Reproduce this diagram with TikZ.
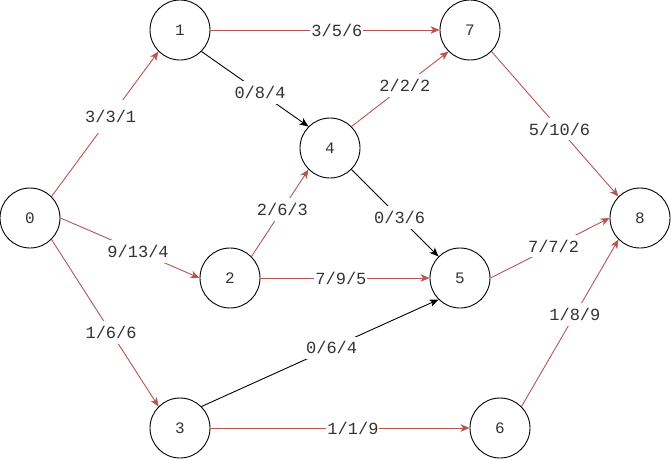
\documentclass[tikz,border=0pt]{standalone}
\usepackage{fontspec}
\setmonofont{Liberation Mono}
\usetikzlibrary{arrows.meta}
\definecolor{flowred}{HTML}{B85450}
\definecolor{labelgray}{HTML}{333333}
\begin{document}
\begin{tikzpicture}[x=1pt,y=-1pt,
  vertex/.style={circle, draw=black, line width=0.9pt, minimum size=60pt, inner sep=0pt,
    font=\ttfamily\fontsize{16}{16}\selectfont, text=labelgray},
  tip/.style={-{Stealth[length=9pt,width=7.5pt,inset=2.5pt]}},
  flow/.style={draw=flowred, line width=0.9pt, tip},
  idle/.style={draw=black, line width=0.9pt, tip},
  lbl/.style={fill=white, inner xsep=1pt, inner ysep=5pt,
    font=\ttfamily\fontsize{17}{17}\selectfont, text=labelgray},
]
\useasboundingbox (0,0) rectangle (671,459);

% vertices
\node[vertex] (n0) at (30,218)  {0};
\node[vertex] (n1) at (180,30)  {1};
\node[vertex] (n7) at (470,30)  {7};
\node[vertex] (n4) at (330,148) {4};
\node[vertex] (n2) at (230,278) {2};
\node[vertex] (n5) at (460,278) {5};
\node[vertex] (n8) at (640,218) {8};
\node[vertex] (n3) at (180,428) {3};
\node[vertex] (n6) at (500,428) {6};

% arcs: flow / capacity / cost
\draw[flow] (n0.north east) -- node[lbl, pos=0.553, minimum height=33pt] {3/3/1} (n1.south west);
\draw[flow] (n0.east) -- node[lbl, pos=0.558] {9/13/4} (n2.west);
\draw[flow] (n0.south east) -- node[lbl, pos=0.557] {1/6/6} (n3.north west);
\draw[flow] (n1.east) -- node[lbl, pos=0.552] {3/5/6} (n7.west);
\draw[idle] (n1.south east) -- node[lbl, pos=0.547] {0/8/4} (n4.north west);
\draw[flow] (n2.north east) -- node[lbl, pos=0.542] {2/6/3} (n4.south west);
\draw[flow] (n2.east) -- node[lbl, pos=0.476] {7/9/5} (n5.west);
\draw[idle] (n3.north east) -- node[lbl, pos=0.549] {0/6/4} (n5.south west);
\draw[flow] (n3.east) -- node[lbl, pos=0.55] {1/1/9} (n6.west);
\draw[flow] (n4.north east) -- node[lbl, pos=0.55] {2/2/2} (n7.south west);
\draw[idle] (n4.south east) -- node[lbl, pos=0.553] {0/3/6} (n5.north west);
\draw[flow] (n7.south east) -- node[lbl, pos=0.536] {5/10/6} (n8.north west);
\draw[flow] (n5.east) -- node[lbl, pos=0.53] {7/7/2} (n8.west);
\draw[flow] (n6.north east) -- node[lbl, pos=0.55] {1/8/9} (n8.south west);
\end{tikzpicture}
\end{document}
